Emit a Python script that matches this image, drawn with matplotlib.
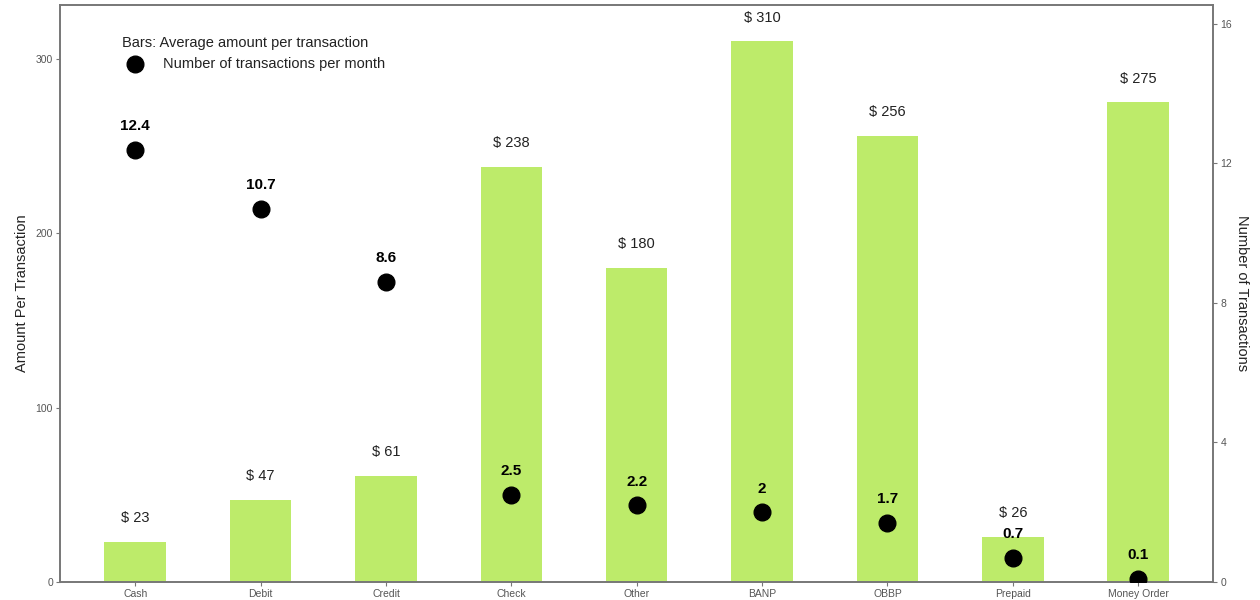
import numpy as np
import matplotlib
matplotlib.use("Agg")
import matplotlib.pyplot as plt

plt.rcParams['font.family'] = ['Liberation Sans', 'DejaVu Sans']

methods = ["Cash", "Debit", "Credit", "Check", "Other", "BANP", "OBBP", "Prepaid", "Money Order"]
avg_amount = [23, 47, 61, 238, 180, 310, 256, 26, 275]
n_transactions = [12.4, 10.7, 8.6, 2.5, 2.2, 2, 1.7, 0.7, 0.1]

bar_color = "#bdeb6a"
frame_color = "#777777"

fig = plt.figure(figsize=(12.6, 6), dpi=100)
ax = fig.add_axes([0.0476, 0.03, 0.9154, 0.962])
ax2 = ax.twinx()

x = np.arange(len(methods))
ax.bar(x, avg_amount, width=0.49, color=bar_color, zorder=1)
for xi, v in zip(x, avg_amount):
    ax.annotate(f"$ {v}", (xi, v), xytext=(0, 12), textcoords="offset points",
                ha="center", va="bottom", fontsize=10.5, color="#222222")

ax2.plot(x, n_transactions, "o", color="black", markersize=12, zorder=3)
for xi, v in zip(x, n_transactions):
    ax2.annotate(f"{v:g}", (xi, v), xytext=(0, 12), textcoords="offset points",
                 ha="center", va="bottom", fontsize=11, fontweight="bold", color="black")

ax.set_xlim(-0.6, 8.6)
ax.set_ylim(0, 331)
ax2.set_ylim(0, 331 / 20)
ax.set_yticks([0, 100, 200, 300])
ax2.set_yticks([0, 4, 8, 12, 16])
ax.set_xticks(x)
ax.set_xticklabels(methods)

for a in (ax, ax2):
    for s in a.spines.values():
        s.set_color(frame_color)
        s.set_linewidth(1.2)
    a.tick_params(length=3, width=0.8, color=frame_color, labelsize=7.5, labelcolor="#555555", pad=2)

ax.set_ylabel("Amount Per Transaction", fontsize=10.5, color="#222222", labelpad=5)
ax2.set_ylabel("Number of Transactions", fontsize=10.5, color="#222222", rotation=270, labelpad=12)

# key in the upper-left corner
ax.text(0.054, 0.933, "Bars: Average amount per transaction", transform=ax.transAxes,
        fontsize=10.5, color="#222222", va="center")
ax.plot([0.065], [0.898], "o", color="black", markersize=12, transform=ax.transAxes, clip_on=False)
ax.text(0.089, 0.898, "Number of transactions per month", transform=ax.transAxes,
        fontsize=10.5, color="#222222", va="center")

fig.savefig("out.png", dpi=100)
